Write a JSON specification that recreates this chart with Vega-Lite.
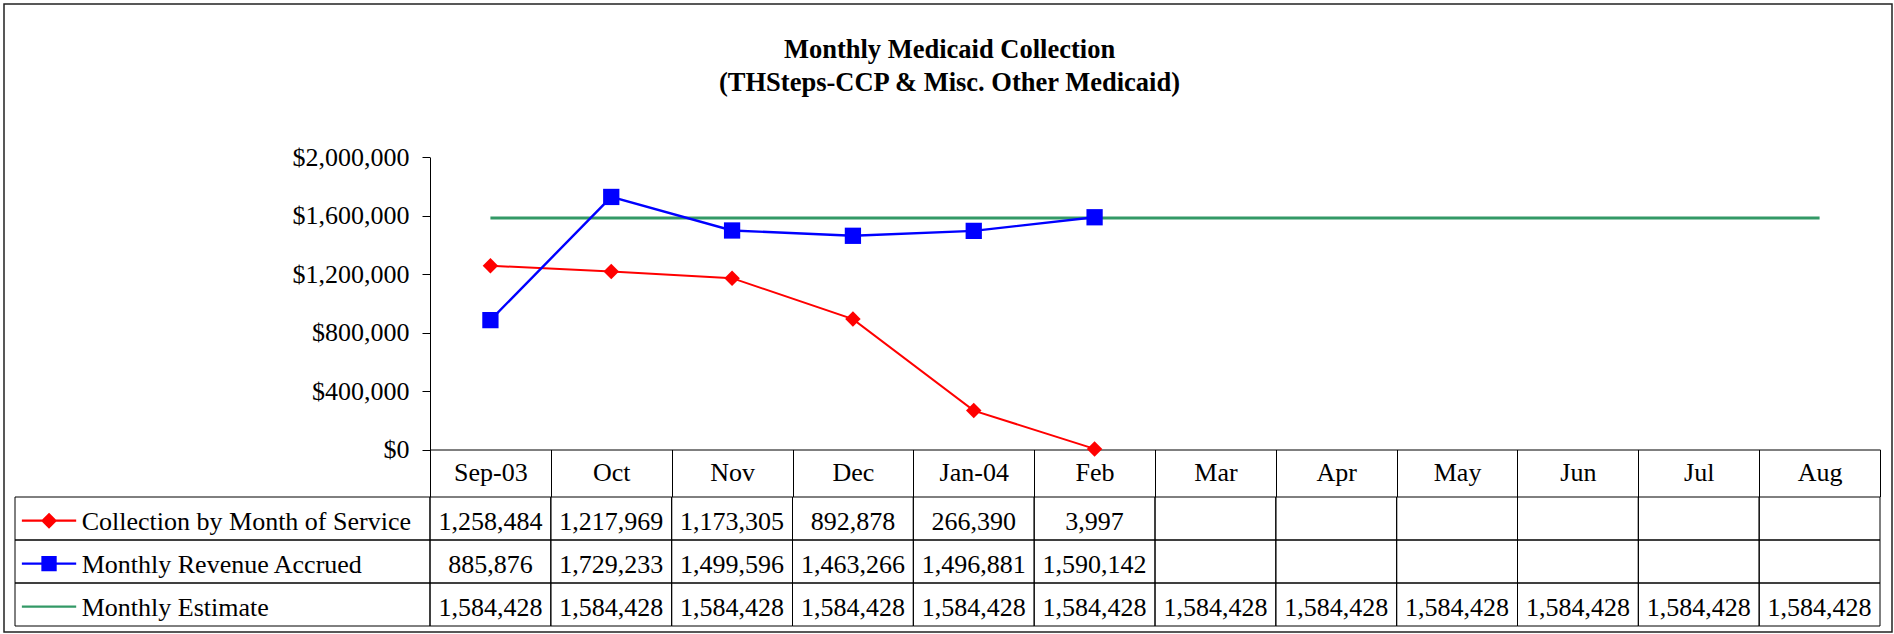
{
  "$schema": "https://vega.github.io/schema/vega-lite/v6.json",
  "autosize": {"type": "none"},
  "padding": {"left": 4, "top": 4, "right": 2, "bottom": 2},
  "width": 1888,
  "height": 628,
  "background": "white",
  "config": {
    "font": "Liberation Serif",
    "view": {"stroke": "#222", "strokeWidth": 1.5}
  },
  "title": {
    "text": ["Monthly Medicaid Collection", "(THSteps-CCP & Misc. Other Medicaid)"],
    "orient": "top",
    "anchor": "middle",
    "frame": "group",
    "font": "Liberation Serif",
    "fontSize": 26.5,
    "fontWeight": "bold",
    "color": "#000",
    "baseline": "top",
    "lineHeight": 33,
    "offset": -92.8,
    "dx": 1.5
  },
  "data": {
    "values": [
      {"month": "Sep-03", "series": "Collection by Month of Service", "value": 1258484},
      {"month": "Oct", "series": "Collection by Month of Service", "value": 1217969},
      {"month": "Nov", "series": "Collection by Month of Service", "value": 1173305},
      {"month": "Dec", "series": "Collection by Month of Service", "value": 892878},
      {"month": "Jan-04", "series": "Collection by Month of Service", "value": 266390},
      {"month": "Feb", "series": "Collection by Month of Service", "value": 3997},
      {"month": "Mar", "series": "Collection by Month of Service", "value": null},
      {"month": "Apr", "series": "Collection by Month of Service", "value": null},
      {"month": "May", "series": "Collection by Month of Service", "value": null},
      {"month": "Jun", "series": "Collection by Month of Service", "value": null},
      {"month": "Jul", "series": "Collection by Month of Service", "value": null},
      {"month": "Aug", "series": "Collection by Month of Service", "value": null},
      {"month": "Sep-03", "series": "Monthly Revenue Accrued", "value": 885876},
      {"month": "Oct", "series": "Monthly Revenue Accrued", "value": 1729233},
      {"month": "Nov", "series": "Monthly Revenue Accrued", "value": 1499596},
      {"month": "Dec", "series": "Monthly Revenue Accrued", "value": 1463266},
      {"month": "Jan-04", "series": "Monthly Revenue Accrued", "value": 1496881},
      {"month": "Feb", "series": "Monthly Revenue Accrued", "value": 1590142},
      {"month": "Mar", "series": "Monthly Revenue Accrued", "value": null},
      {"month": "Apr", "series": "Monthly Revenue Accrued", "value": null},
      {"month": "May", "series": "Monthly Revenue Accrued", "value": null},
      {"month": "Jun", "series": "Monthly Revenue Accrued", "value": null},
      {"month": "Jul", "series": "Monthly Revenue Accrued", "value": null},
      {"month": "Aug", "series": "Monthly Revenue Accrued", "value": null},
      {"month": "Sep-03", "series": "Monthly Estimate", "value": 1584428},
      {"month": "Oct", "series": "Monthly Estimate", "value": 1584428},
      {"month": "Nov", "series": "Monthly Estimate", "value": 1584428},
      {"month": "Dec", "series": "Monthly Estimate", "value": 1584428},
      {"month": "Jan-04", "series": "Monthly Estimate", "value": 1584428},
      {"month": "Feb", "series": "Monthly Estimate", "value": 1584428},
      {"month": "Mar", "series": "Monthly Estimate", "value": 1584428},
      {"month": "Apr", "series": "Monthly Estimate", "value": 1584428},
      {"month": "May", "series": "Monthly Estimate", "value": 1584428},
      {"month": "Jun", "series": "Monthly Estimate", "value": 1584428},
      {"month": "Jul", "series": "Monthly Estimate", "value": 1584428},
      {"month": "Aug", "series": "Monthly Estimate", "value": 1584428}
    ]
  },
  "resolve": {"scale": {"x": "independent", "y": "independent"}},
  "layer": [
    {
      "transform": [{"filter": "datum.value != null"}],
      "encoding": {
        "x": {
          "field": "month", "type": "nominal", "bandPosition": 0.5,
          "scale": {"type": "band", "domain": ["Sep-03","Oct","Nov","Dec","Jan-04","Feb","Mar","Apr","May","Jun","Jul","Aug"], "range": [426, 1876], "paddingInner": 0, "paddingOuter": 0},
          "axis": {
            "orient": "bottom", "offset": -182.5, "title": null, "grid": false,
            "domain": true, "domainColor": "#000", "domainWidth": 1,
            "ticks": true, "tickBand": "extent", "tickSize": 47, "tickColor": "#000", "tickWidth": 1,
            "labelFontSize": 26, "labelColor": "#000", "labelAngle": 0, "labelAlign": "center",
            "labelBaseline": "alphabetic", "labelPadding": -15.8, "labelOverlap": false
          }
        },
        "y": {
          "field": "value", "type": "quantitative",
          "scale": {"domain": [0, 2000000], "range": [445.5, 153.4], "nice": false, "zero": true},
          "axis": {
            "orient": "left", "offset": -426, "title": null, "grid": false,
            "values": [0, 400000, 800000, 1200000, 1600000, 2000000], "format": "$,.0f",
            "domainColor": "#000", "tickColor": "#000", "tickSize": 8,
            "labelFontSize": 26, "labelColor": "#000", "labelPadding": 13, "labelBaseline": "middle",
            "labelOverlap": false, "labelFlush": false
          }
        },
        "color": {
          "field": "series", "type": "nominal", "legend": null,
          "scale": {"domain": ["Collection by Month of Service", "Monthly Revenue Accrued", "Monthly Estimate"], "range": ["#FF0000", "#0000FF", "#339966"]}
        }
      },
      "layer": [
        {"transform": [{"filter": "datum.series == 'Monthly Estimate'"}], "mark": {"type": "line", "strokeWidth": 3}},
        {"transform": [{"filter": "datum.series == 'Collection by Month of Service'"}], "mark": {"type": "line", "strokeWidth": 2}},
        {"transform": [{"filter": "datum.series == 'Collection by Month of Service'"}], "mark": {"type": "point", "shape": "diamond", "filled": true, "size": 240, "opacity": 1}},
        {"transform": [{"filter": "datum.series == 'Monthly Revenue Accrued'"}], "mark": {"type": "line", "strokeWidth": 2.4}},
        {"transform": [{"filter": "datum.series == 'Monthly Revenue Accrued'"}], "mark": {"type": "point", "shape": "square", "filled": true, "size": 265, "opacity": 1}}
      ]
    },
    {
      "encoding": {
        "x": {
          "field": "month", "type": "nominal",
          "scale": {"type": "band", "domain": ["Sep-03","Oct","Nov","Dec","Jan-04","Feb","Mar","Apr","May","Jun","Jul","Aug"], "range": [426, 1876], "paddingInner": 0, "paddingOuter": 0},
          "axis": null
        },
        "y": {
          "field": "series", "type": "nominal",
          "scale": {"type": "band", "domain": ["Collection by Month of Service", "Monthly Revenue Accrued", "Monthly Estimate"], "range": [493, 622], "paddingInner": 0, "paddingOuter": 0},
          "axis": null
        }
      },
      "layer": [
        {"mark": {"type": "rect", "fill": "white", "fillOpacity": 0, "stroke": "#000", "strokeWidth": 1}},
        {
          "transform": [{"filter": "datum.value != null"}],
          "mark": {"type": "text", "fontSize": 26, "color": "#000", "align": "center", "baseline": "alphabetic", "dy": 11},
          "encoding": {"text": {"field": "value", "type": "quantitative", "format": ","}}
        }
      ]
    },
    {
      "transform": [{"filter": "datum.month == 'Sep-03'"}],
      "encoding": {
        "x": {
          "datum": "key", "type": "nominal",
          "scale": {"type": "band", "domain": ["key"], "range": [11, 426], "paddingInner": 0, "paddingOuter": 0},
          "axis": null
        },
        "y": {
          "field": "series", "type": "nominal",
          "scale": {"type": "band", "domain": ["Collection by Month of Service", "Monthly Revenue Accrued", "Monthly Estimate"], "range": [493, 622], "paddingInner": 0, "paddingOuter": 0},
          "axis": null
        }
      },
      "layer": [
        {"mark": {"type": "rect", "fill": "white", "fillOpacity": 0, "stroke": "#000", "strokeWidth": 1}},
        {
          "mark": {"type": "text", "fontSize": 26, "color": "#000", "align": "left", "baseline": "alphabetic", "dy": 11, "dx": 66.7},
          "encoding": {
            "x": {"datum": "key", "type": "nominal", "bandPosition": 0},
            "text": {"field": "series", "type": "nominal"}
          }
        },
        {
          "mark": {"type": "point", "filled": true, "opacity": 1, "strokeWidth": 2.3, "size": 2950},
          "encoding": {
            "x": {"datum": "key", "type": "nominal", "bandPosition": 0.082},
            "y": {"field": "series", "type": "nominal", "bandPosition": 0.55},
            "shape": {
              "field": "series", "type": "nominal", "legend": null,
              "scale": {"domain": ["Collection by Month of Service", "Monthly Revenue Accrued", "Monthly Estimate"], "range": ["M-1,0L1,0M0,-0.235L0.235,0L0,0.235L-0.235,0Z", "M-1,0L1,0M-0.24,-0.24L0.24,-0.24L0.24,0.24L-0.24,0.24Z", "M-1,0L1,0"]}
            },
            "fill": {
              "field": "series", "type": "nominal", "legend": null,
              "scale": {"domain": ["Collection by Month of Service", "Monthly Revenue Accrued", "Monthly Estimate"], "range": ["#FF0000", "#0000FF", "#339966"]}
            },
            "stroke": {
              "field": "series", "type": "nominal", "legend": null,
              "scale": {"domain": ["Collection by Month of Service", "Monthly Revenue Accrued", "Monthly Estimate"], "range": ["#FF0000", "#0000FF", "#339966"]}
            }
          }
        }
      ]
    }
  ]
}
